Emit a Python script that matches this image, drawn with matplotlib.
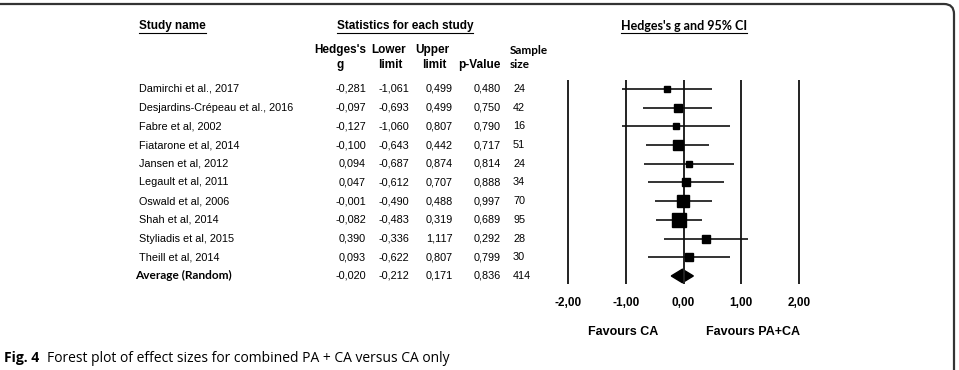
import numpy as np
import matplotlib.pyplot as plt
import matplotlib.transforms as mtransforms
from matplotlib.path import Path
from matplotlib.patches import PathPatch

# data
studies = ["Damirchi et al., 2017", "Desjardins-Crépeau et al., 2016", "Fabre et al, 2002",
           "Fiatarone et al, 2014", "Jansen et al, 2012", "Legault et al, 2011",
           "Oswald et al, 2006", "Shah et al, 2014", "Styliadis et al, 2015", "Theill et al, 2014"]
hedges_g = [-0.281, -0.097, -0.127, -0.100, 0.094, 0.047, -0.001, -0.082, 0.390, 0.093]
lower = [-1.061, -0.693, -1.060, -0.643, -0.687, -0.612, -0.490, -0.483, -0.336, -0.622]
upper = [0.499, 0.499, 0.807, 0.442, 0.874, 0.707, 0.488, 0.319, 1.117, 0.807]
p_value = [0.480, 0.750, 0.790, 0.717, 0.814, 0.888, 0.997, 0.689, 0.292, 0.799]
sample = [24, 42, 16, 51, 24, 34, 70, 95, 28, 30]

avg_label = "Average (Random)"
avg_g, avg_lo, avg_hi, avg_p, avg_n = -0.020, -0.212, 0.171, 0.836, 414

ticks = [-2, -1, 0, 1, 2]
tick_labels = ["-2,00", "-1,00", "0,00", "1,00", "2,00"]

W, H = 959, 370
fig = plt.figure(figsize=(W / 100, H / 100), dpi=100)


def fx(px):
    return px / W


def fy(py):
    return 1 - py / H


def num(v):
    return f"{v:.3f}".replace(".", ",")


narrow = ["Liberation Sans Narrow", "Liberation Sans", "DejaVu Sans"]
arial = ["Liberation Sans", "DejaVu Sans"]
calibri = ["Lato", "DejaVu Sans"]
fs = 7.8

# forest axes: -2..2 between x=568 and x=799 px, rows 0..10 from y=89 px
ax = fig.add_axes([fx(568), fy(284), (799 - 568) / W, (284 - 80) / H])
n = len(studies)
ax.set_xlim(-2, 2)
ax.set_ylim(10.43, -0.48)
for s in ax.spines.values():
    s.set_visible(False)
ax.set_yticks([])
ax.set_xticks(ticks)
ax.set_xticklabels(tick_labels, fontfamily=arial, fontweight="bold", fontsize=8.5)
ax.tick_params(axis="x", length=0, pad=9)
ax.patch.set_visible(False)

ax.vlines(ticks, -0.48, 10.43, color="#222222", lw=1.4, clip_on=False)

rows = np.arange(n)
ax.hlines(rows, lower, upper, color="#111111", lw=1.2, clip_on=False)
for i in range(n):
    side = 1.35 * np.sqrt(sample[i]) * 0.72
    ax.plot(hedges_g[i], rows[i], marker="s", ms=side, color="black", clip_on=False)

ya = n
hd = 0.36
ax.fill([avg_lo, avg_g, avg_hi, avg_g], [ya, ya - hd, ya, ya + hd], color="black", clip_on=False)

# table text
tr = mtransforms.blended_transform_factory(fig.transFigure, ax.transData)
cols = [(366, hedges_g), (409, lower), (453, upper), (501, p_value)]
for i in range(n):
    ax.text(fx(139), i, studies[i], transform=tr, ha="left", va="center",
            fontsize=fs, fontfamily=narrow)
    for xr, vals in cols:
        ax.text(fx(xr), i, num(vals[i]), transform=tr, ha="right", va="center",
                fontsize=fs, fontfamily=narrow)
    ax.text(fx(513), i, str(sample[i]), transform=tr, ha="left", va="center",
            fontsize=fs, fontfamily=narrow)

ax.text(fx(135), ya, avg_label, transform=tr, ha="left", va="center",
        fontsize=8.6, fontfamily=calibri, fontweight="bold")
for xr, v in [(366, avg_g), (409, avg_lo), (453, avg_hi), (501, avg_p)]:
    ax.text(fx(xr), ya, num(v), transform=tr, ha="right", va="center",
            fontsize=fs, fontfamily=narrow)
ax.text(fx(513), ya, str(avg_n), transform=tr, ha="left", va="center",
        fontsize=fs, fontfamily=narrow)


# headers
def underlined(x, y, s, ha, family, size=8.5):
    t = fig.text(fx(x), fy(y), s, ha=ha, va="center", fontsize=size,
                 fontfamily=family, fontweight="bold")
    fig.canvas.draw()
    bb = t.get_window_extent()
    fig.add_artist(plt.Line2D([bb.x0 / W, bb.x1 / W], [fy(y + 7), fy(y + 7)],
                              color="black", lw=0.8))


underlined(139, 26, "Study name", "left", arial)
underlined(405, 26, "Statistics for each study", "center", arial)
underlined(684, 26, "Hedges's g and 95% CI", "center", calibri, 9)

hdr = dict(va="center", fontsize=8.5, fontfamily=arial, fontweight="bold")
fig.text(fx(340), fy(50), "Hedges's", ha="center", **hdr)
fig.text(fx(340), fy(65), "g", ha="center", **hdr)
fig.text(fx(389), fy(50), "Lower", ha="center", **hdr)
fig.text(fx(390), fy(65), "limit", ha="center", **hdr)
fig.text(fx(432), fy(50), "Upper", ha="center", **hdr)
fig.text(fx(434), fy(65), "limit", ha="center", **hdr)
fig.text(fx(479), fy(65), "p-Value", ha="center", **hdr)
fig.text(fx(510), fy(50), "Sample", ha="left", va="center", fontsize=8.5,
         fontfamily=calibri, fontweight="bold")
fig.text(fx(510), fy(65), "size", ha="left", va="center", fontsize=8.5,
         fontfamily=calibri, fontweight="bold")

fig.text(fx(623), fy(332), "Favours CA", ha="center", va="center", fontsize=9,
         fontfamily=arial, fontweight="bold")
fig.text(fx(753), fy(332), "Favours PA+CA", ha="center", va="center", fontsize=9,
         fontfamily=arial, fontweight="bold")

# frame: top edge and right edge with rounded corner
verts = [(fx(0), fy(4)), (fx(944), fy(4)), (fx(954), fy(4)), (fx(954), fy(14)), (fx(954), fy(372))]
codes = [Path.MOVETO, Path.LINETO, Path.CURVE3, Path.CURVE3, Path.LINETO]
fig.add_artist(PathPatch(Path(verts, codes), transform=fig.transFigure, fill=False,
                         edgecolor="#333333", lw=1.6))

# caption
fig.text(fx(4), fy(358), "Fig. 4", ha="left", va="center", fontsize=10,
         fontfamily=["Open Sans", "DejaVu Sans"], fontweight="bold")
fig.text(fx(47), fy(358), "Forest plot of effect sizes for combined PA + CA versus CA only",
         ha="left", va="center", fontsize=10, fontfamily=["Open Sans", "DejaVu Sans"])

fig.savefig("out.png", dpi=100)
